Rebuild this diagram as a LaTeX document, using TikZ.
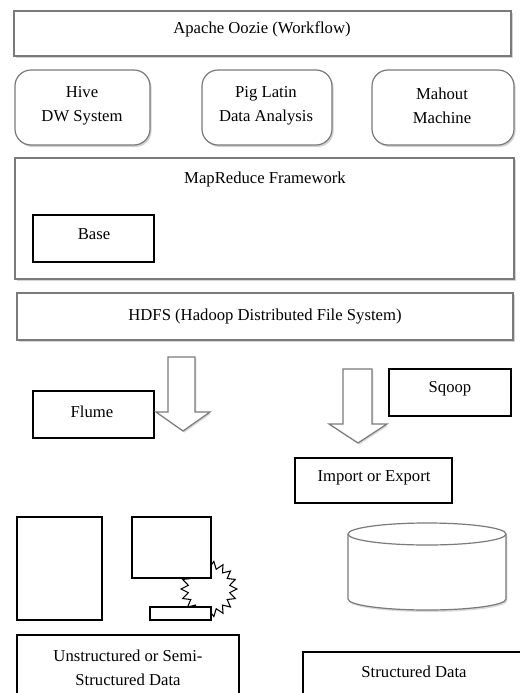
\documentclass[tikz,border=0pt]{standalone}
\usepackage{fontspec}
\setmainfont{Liberation Serif}
\usetikzlibrary{shadows}
\definecolor{bordergray}{HTML}{7A7A7A}
\begin{document}
\begin{tikzpicture}[x=0.75pt,y=-0.75pt,
  txt/.style={font=\fontsize{12.5}{18}\selectfont, inner sep=0pt, align=center},
  graybox/.style={draw=bordergray, line width=0.9pt, fill=white, drop shadow={shadow xshift=1.2pt, shadow yshift=-1.5pt, opacity=0.35}},
  blackbox/.style={draw=black, line width=0.8pt, fill=white},
  blockarrow/.style={draw=bordergray, line width=0.9pt, fill=white, drop shadow={shadow xshift=1pt, shadow yshift=-1.2pt, opacity=0.3}}
]
\useasboundingbox (0,0) rectangle (519,693);
% top layers
\path[graybox] (14,11) rectangle (511,56);
\node[txt] (oozie) at (262,29) {Apache Oozie (Workflow)};
\path[graybox, rounded corners=12] (15,70) rectangle (150,145);
\node[txt] (hive) at (82,106) {Hive\\DW System};
\path[graybox, rounded corners=12] (202,70) rectangle (332,145);
\node[txt] (pig) at (266,106) {Pig Latin\\Data Analysis};
\path[graybox, rounded corners=12] (372,70) rectangle (514,145);
\node[txt] (mahout) at (442,106) {Mahout\\Machine};
\path[graybox] (15,158) rectangle (514,279);
\node[txt] (mapred) at (265,179) {MapReduce Framework};
\path[blackbox] (33,215) rectangle (154,262);
\node[txt] (base) at (94,234) {Base};
\path[graybox] (17,293) rectangle (513,340);
\node[txt] (hdfs) at (265,317) {HDFS (Hadoop Distributed File System)};
% flume
\path[blackbox] (33,391) rectangle (154,438);
\node[txt] (flume) at (92,412) {Flume};
\path[blockarrow] (168,357) -- (195,357) -- (195,412) -- (210,412) -- (183,431) -- (156,412) -- (168,412) -- cycle;
% sqoop
\path[blockarrow] (343,369) -- (372,369) -- (372,424) -- (387,424) -- (358,443) -- (329,424) -- (343,424) -- cycle;
\path[blackbox] (389,369) rectangle (511,416);
\node[txt] (sqoop) at (450,389) {Sqoop};
\path[blackbox] (295,458) rectangle (452,503);
\node[txt] (impexp) at (374,478) {Import or Export};
% unstructured icons
\path[blackbox] (17,517) rectangle (102,620);
\draw[black, line width=0.8pt, fill=white, shift={(209,589)}]
  (0:28) \foreach \i in {1,...,35} { -- ({\i*10}:{ifthenelse(mod(\i,2)==0,28,21)}) } -- cycle;
\path[blackbox] (132,517) rectangle (211,578);
\path[blackbox] (150,607) rectangle (211,620);
% cylinder
\path[draw=bordergray, line width=0.9pt, fill=white, drop shadow={shadow xshift=1pt, shadow yshift=-1.5pt, opacity=0.3}]
  (348,534) -- (348,599) arc[start angle=180, end angle=0, x radius=79, y radius=11] -- (506,534) arc[start angle=0, end angle=-180, x radius=79, y radius=11] -- cycle;
\draw[bordergray, line width=0.9pt] (348,534) arc[start angle=180, end angle=0, x radius=79, y radius=11];
% bottom labels
\draw[black, line width=0.8pt] (17,695) -- (17,635) -- (239,635) -- (239,695);
\node[txt] (unstr) at (128,668) {Unstructured or Semi-\\Structured Data};
\draw[black, line width=0.8pt] (303,695) -- (303,652) -- (521,652);
\node[txt] (str) at (414,672) {Structured Data};
\end{tikzpicture}
\end{document}
